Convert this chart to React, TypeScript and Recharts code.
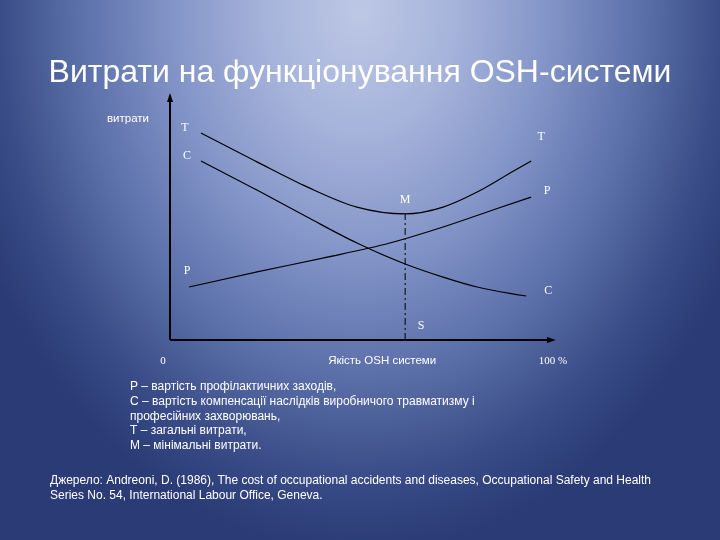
import React from 'react';
import { LineChart, Line, XAxis, YAxis, ReferenceLine, ReferenceDot } from 'recharts';

// Total costs T
const tQuality = [8.1, 22.7, 35.8, 48.8, 61.4, 71.3, 80.2, 88.8, 94.3];
const tCost = [85.2, 73.3, 63.0, 54.7, 51.9, 54.7, 60.9, 68.7, 73.7];
// Compensation costs C
const cQuality = [8.1, 22.7, 35.8, 48.8, 61.4, 71.3, 80.2, 93.0];
const cCost = [73.7, 61.7, 50.6, 39.9, 31.3, 25.9, 21.8, 18.1];
// Prevention costs P
const pQuality = [5.0, 22.7, 39.9, 57.4, 71.3, 84.3, 94.3];
const pCost = [21.8, 28.0, 33.7, 39.9, 46.5, 53.5, 58.8];
// Minimum point M / optimum S
const optimumQuality = 61.4;
const minimumCost = 51.9;

const title = 'Витрати на функціонування OSH-системи';
const yAxisTitle = 'витрати';
const xAxisTitle = 'Якість OSH системи';
const xStart = '0';
const xEnd = '100 %';
const legendLines = [
  'Р – вартість профілактичних заходів,',
  'С – вартість компенсації наслідків виробничого травматизму і',
  'професійних захворювань,',
  'Т – загальні витрати,',
  'М – мінімальні витрати.',
];
const sourceLines = [
  'Джерело: Andreoni, D. (1986), The cost of occupational accidents and diseases, Occupational Safety and Health',
  'Series No. 54, International Labour Office, Geneva.',
];

const toData = (xs: number[], ys: number[]) => xs.map((x, i) => ({ q: x, v: ys[i] }));
const tData = toData(tQuality, tCost);
const cData = toData(cQuality, cCost);
const pData = toData(pQuality, pCost);

const SERIF = '"Liberation Serif", "Times New Roman", serif';
const SANS = '"Liberation Sans", Arial, sans-serif';

const tag = (text: string, dx: number, dy: number, font: string, size: number, anchor: string = 'middle') =>
  (props: any) => (
    <text
      x={props.cx + dx}
      y={props.cy + dy}
      fill="#ffffff"
      fontFamily={font}
      fontSize={size}
      textAnchor={anchor as any}
      dominantBaseline="central"
    >
      {text}
    </text>
  );

const arrowUp = (props: any) => (
  <polygon points={`${props.cx},${props.cy - 4} ${props.cx - 3},${props.cy + 5} ${props.cx + 3},${props.cy + 5}`} fill="#000" />
);
const arrowRight = (props: any) => (
  <polygon points={`${props.cx + 3},${props.cy} ${props.cx - 6},${props.cy - 3} ${props.cx - 6},${props.cy + 3}`} fill="#000" />
);

export default function App() {
  const last = (a: number[]) => a[a.length - 1];
  return (
    <div
      style={{
        position: 'fixed',
        left: 0,
        top: 0,
        width: 720,
        height: 540,
        overflow: 'hidden',
        background:
          'radial-gradient(ellipse 58% 100% at 50% 2%, #bdc7e5 0%, #a7b4db 22%, #8395c8 45%, #5a6ea8 68%, #3a4d88 86%, #2a3b76 100%)',
      }}
    >
      <div
        style={{
          position: 'absolute',
          left: 0,
          top: 52,
          width: 720,
          textAlign: 'center',
          color: '#fff',
          fontFamily: SANS,
          fontSize: 32,
          lineHeight: '38px',
        }}
      >
        {title}
      </div>
      <div style={{ position: 'absolute', left: 0, top: 0 }}>
        <LineChart width={720} height={540} margin={{ top: 97, right: 167, bottom: 200, left: 170 }}>
          <XAxis type="number" dataKey="q" domain={[0, 100]} hide allowDataOverflow />
          <YAxis type="number" dataKey="v" domain={[0, 100]} hide allowDataOverflow />
          <ReferenceLine
            segment={[
              { x: 0, y: 0 },
              { x: 100, y: 0 },
            ]}
            stroke="#000"
            strokeWidth={2}
          />
          <ReferenceLine
            segment={[
              { x: 0, y: 0 },
              { x: 0, y: 100 },
            ]}
            stroke="#000"
            strokeWidth={2}
          />
          <ReferenceLine
            segment={[
              { x: optimumQuality, y: 0 },
              { x: optimumQuality, y: minimumCost },
            ]}
            stroke="#000"
            strokeWidth={1}
            strokeDasharray="7 3 2 3"
          />
          <Line data={tData} dataKey="v" type="monotone" stroke="#000" strokeWidth={1.2} dot={false} isAnimationActive={false} />
          <Line data={cData} dataKey="v" type="monotone" stroke="#000" strokeWidth={1.2} dot={false} isAnimationActive={false} />
          <Line data={pData} dataKey="v" type="monotone" stroke="#000" strokeWidth={1.2} dot={false} isAnimationActive={false} />

          <ReferenceDot x={0} y={100} r={0} shape={arrowUp} />
          <ReferenceDot x={100} y={0} r={0} shape={arrowRight} />

          <ReferenceDot x={tQuality[0]} y={tCost[0]} shape={tag('T', -16, -6, SERIF, 12)} />
          <ReferenceDot x={cQuality[0]} y={cCost[0]} shape={tag('C', -14, -6, SERIF, 12)} />
          <ReferenceDot x={pQuality[0]} y={pCost[0]} shape={tag('P', -2, -17, SERIF, 12)} />
          <ReferenceDot x={last(tQuality)} y={last(tCost)} shape={tag('T', 10, -25, SERIF, 12)} />
          <ReferenceDot x={last(pQuality)} y={last(pCost)} shape={tag('P', 16, -7, SERIF, 12)} />
          <ReferenceDot x={last(cQuality)} y={last(cCost)} shape={tag('C', 22, -6, SERIF, 12)} />
          <ReferenceDot x={optimumQuality} y={minimumCost} shape={tag('M', 0, -15, SERIF, 12)} />
          <ReferenceDot x={optimumQuality} y={0} shape={tag('S', 16, -15, SERIF, 12)} />

          <ReferenceDot x={0} y={0} shape={tag(xStart, -7, 20, SERIF, 11)} />
          <ReferenceDot x={100} y={0} shape={tag(xEnd, 0, 20, SERIF, 11)} />
          <ReferenceDot x={55.4} y={0} shape={tag(xAxisTitle, 0, 20, SANS, 11.5)} />
          <ReferenceDot x={0} y={100} shape={tag(yAxisTitle, -42, 21, SANS, 11.5)} />
        </LineChart>
      </div>
      <div
        style={{
          position: 'absolute',
          left: 130,
          top: 379,
          color: '#fff',
          fontFamily: SANS,
          fontSize: 12,
          lineHeight: '14.8px',
        }}
      >
        {legendLines.map((l, i) => (
          <div key={i}>{l}</div>
        ))}
      </div>
      <div
        style={{
          position: 'absolute',
          left: 50,
          top: 473,
          color: '#fff',
          fontFamily: SANS,
          fontSize: 12,
          lineHeight: '15px',
          whiteSpace: 'nowrap',
        }}
      >
        {sourceLines.map((l, i) => (
          <div key={i}>{l}</div>
        ))}
      </div>
    </div>
  );
}
